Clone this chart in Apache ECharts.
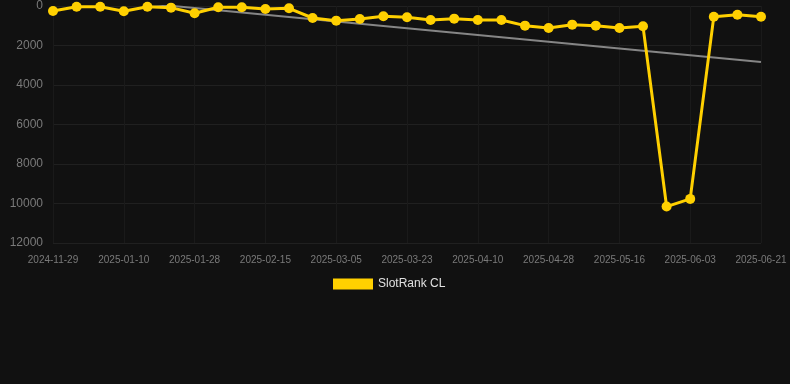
<!DOCTYPE html>
<html>
<head>
<meta charset="utf-8">
<script src="https://cdn.jsdelivr.net/npm/echarts@6/dist/echarts.min.js"></script>
<style>
  html, body { margin: 0; padding: 0; background: #111111; }
  #chart { width: 790px; height: 384px; }
</style>
</head>
<body>
<div id="chart"></div>
<script>
// dates on the x axis (category axis, one per data point)
var dates = [
  '2024-11-29', '2024-12-13', '2024-12-27', '2025-01-10', '2025-01-16', '2025-01-22',
  '2025-01-28', '2025-02-03', '2025-02-09', '2025-02-15', '2025-02-21', '2025-02-27',
  '2025-03-05', '2025-03-11', '2025-03-17', '2025-03-23', '2025-03-29', '2025-04-04',
  '2025-04-10', '2025-04-16', '2025-04-22', '2025-04-28', '2025-05-04', '2025-05-10',
  '2025-05-16', '2025-05-22', '2025-05-28', '2025-06-03', '2025-06-09', '2025-06-15',
  '2025-06-21'
];
// rank values
var ranks = [
  253, 34, 34, 270, 34, 84, 371, 67, 67, 152, 118, 607, 742, 658, 523,
  573, 708, 641, 708, 708, 995, 1113, 944, 995, 1113, 1029,
  10155, 9766, 540, 439, 540
];
var yTicks = [0, 2000, 4000, 6000, 8000, 10000, 12000];

// least squares trend over the ranks
function trend(vals) {
  var n = vals.length, sx = 0, sy = 0, sxy = 0, sxx = 0;
  vals.forEach(function(v, i) { sx += i; sy += v; sxy += i * v; sxx += i * i; });
  var k = (n * sxy - sx * sy) / (n * sxx - sx * sx);
  var b = (sy - k * sx) / n;
  return vals.map(function(v, i) { return +(b + k * i).toFixed(1); });
}

var myChart = echarts.init(document.getElementById('chart'));
var option = {
  backgroundColor: '#111111',
  animation: false,
  grid: { left: 53, right: 29, top: 6, bottom: 141 },
  legend: {
    data: [{ name: 'SlotRank CL', icon: 'rect' }],
    left: 333,
    top: 278,
    padding: 0,
    itemWidth: 40,
    itemHeight: 11,
    itemGap: 10,
    textStyle: { color: '#e0e0e0', fontSize: 12, fontFamily: 'Liberation Sans, Arial, sans-serif' }
  },
  xAxis: {
    type: 'category',
    data: dates,
    boundaryGap: false,
    axisLine: { show: false },
    axisTick: { show: false },
    axisLabel: {
      interval: 2,
      color: '#7a7a7a',
      fontSize: 10,
      margin: 12,
      fontFamily: 'Liberation Sans, Arial, sans-serif'
    },
    splitLine: { show: true, interval: 2, lineStyle: { color: '#1a1a1a', width: 1 } }
  },
  yAxis: {
    type: 'value',
    inverse: true,
    min: yTicks[0],
    max: yTicks[yTicks.length - 1],
    interval: 2000,
    axisLine: { show: false },
    axisTick: { show: false },
    axisLabel: {
      color: '#7a7a7a',
      fontSize: 12,
      margin: 10,
      formatter: function(v) { return String(v); },
      fontFamily: 'Liberation Sans, Arial, sans-serif'
    },
    splitLine: { lineStyle: { color: '#202020', width: 1 } }
  },
  series: [
    {
      name: 'SlotRank CL',
      type: 'line',
      data: ranks,
      symbol: 'circle',
      symbolSize: 10,
      itemStyle: { color: '#ffd000' },
      lineStyle: { color: '#ffd000', width: 3 },
      z: 3
    },
    {
      name: 'trend',
      type: 'line',
      data: trend(ranks),
      symbol: 'none',
      lineStyle: { color: '#858585', width: 2 },
      z: 2
    }
  ]
};
myChart.setOption(option);
</script>
</body>
</html>
